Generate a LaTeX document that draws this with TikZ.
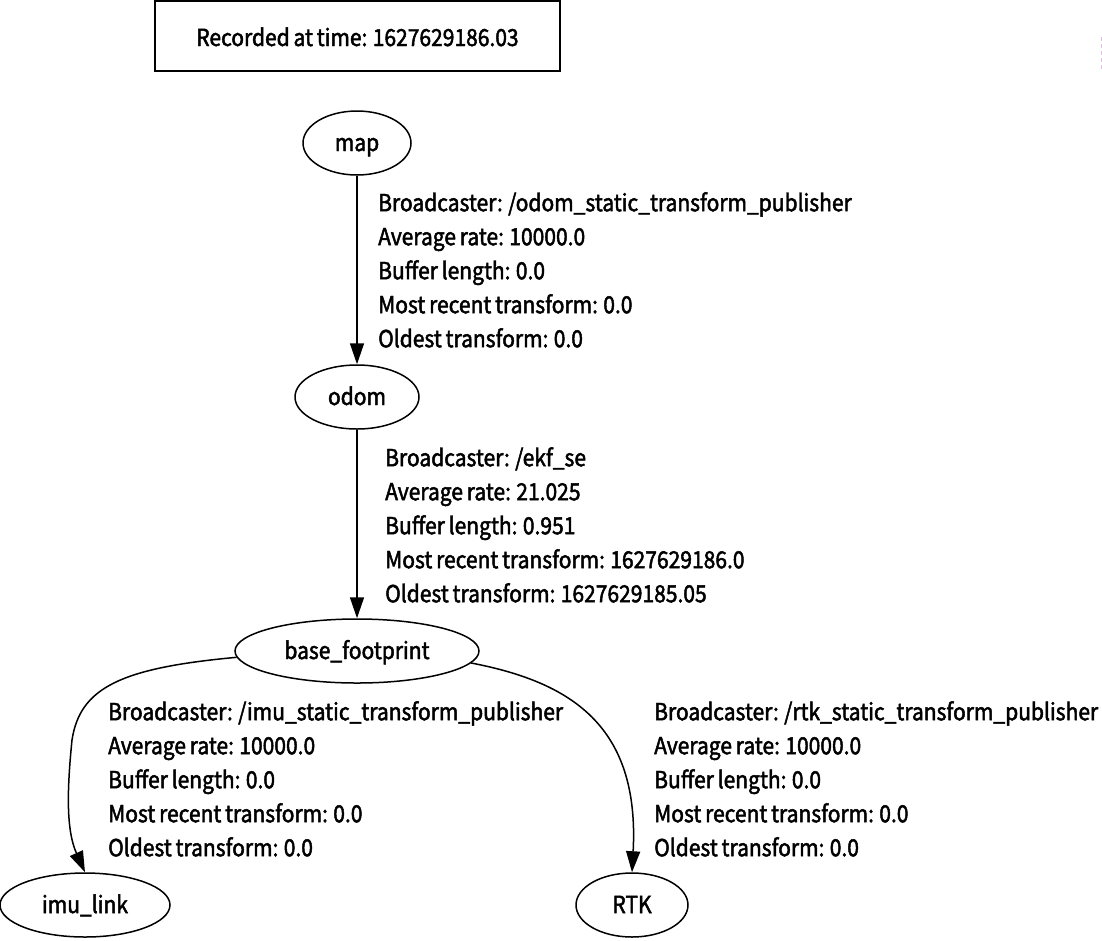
\documentclass[tikz,border=0pt]{standalone}
\usepackage{fontspec}
\setmainfont{Noto Sans CJK SC}[FakeStretch=0.895,WordSpace=0.8,FakeBold=2]
\usetikzlibrary{arrows.meta,shapes.geometric}
\begin{document}
\begin{tikzpicture}[x=1pt,y=-1pt,
  every node/.style={font=\fontsize{23.5}{34}\selectfont},
  frame/.style={ellipse,draw,line width=1.5pt,inner sep=0pt,text height=20pt,text depth=4pt},
  edgeline/.style={line width=1.5pt,-{Triangle[length=21pt,width=14pt]}},
  info/.style={anchor=north west,inner sep=0pt,align=left}]
\useasboundingbox (0,0) rectangle (1102,940);

% timestamp header
\node[draw,line width=1.5pt,minimum width=405pt,minimum height=70pt,inner sep=0pt,
  text height=24pt,text depth=4pt] (stamp) at (357.5,36) {Recorded at time: 1627629186.03};

% frames
\node[frame,minimum width=108pt,minimum height=64pt] (map) at (357,143) {map};
\node[frame,minimum width=124pt,minimum height=64pt] (odom) at (357,397) {odom};
\node[frame,minimum width=244pt,minimum height=64pt] (base) at (357,651) {base\_footprint};
\node[frame,minimum width=170pt,minimum height=64pt] (imu) at (85,905) {imu\_link};
\node[frame,minimum width=112pt,minimum height=64pt] (rtk) at (632,905) {RTK};

% transforms
\draw[edgeline] (map) -- (odom);
\draw[edgeline] (odom) -- (base);
\coordinate (imubend) at (72,740);
\draw[edgeline] (base.183) .. controls (120,668) and (80,688) .. (imubend)
  .. controls (67,790) and (66,830) .. (imu.north);
\draw[edgeline] (base.-6) .. controls (570,682) and (640,725) .. (rtk.north);

% transform details
\node[info] (lab1) at (378,192) {Broadcaster: /odom\_static\_transform\_publisher\\Average rate: 10000.0\\Buffer length: 0.0\\Most recent transform: 0.0\\Oldest transform: 0.0};
\node[info] (lab2) at (385,447) {Broadcaster: /ekf\_se\\Average rate: 21.025\\Buffer length: 0.951\\Most recent transform: 1627629186.0\\Oldest transform: 1627629185.05};
\node[info] (lab3) at (108,701) {Broadcaster: /imu\_static\_transform\_publisher\\Average rate: 10000.0\\Buffer length: 0.0\\Most recent transform: 0.0\\Oldest transform: 0.0};
\node[info] (lab4) at (654,701) {Broadcaster: /rtk\_static\_transform\_publisher\\Average rate: 10000.0\\Buffer length: 0.0\\Most recent transform: 0.0\\Oldest transform: 0.0};

% faint margin mark
\draw[draw=violet!25,line width=1pt,dash pattern=on 4pt off 3pt] (1101,37) -- (1101,70);
\end{tikzpicture}
\end{document}
